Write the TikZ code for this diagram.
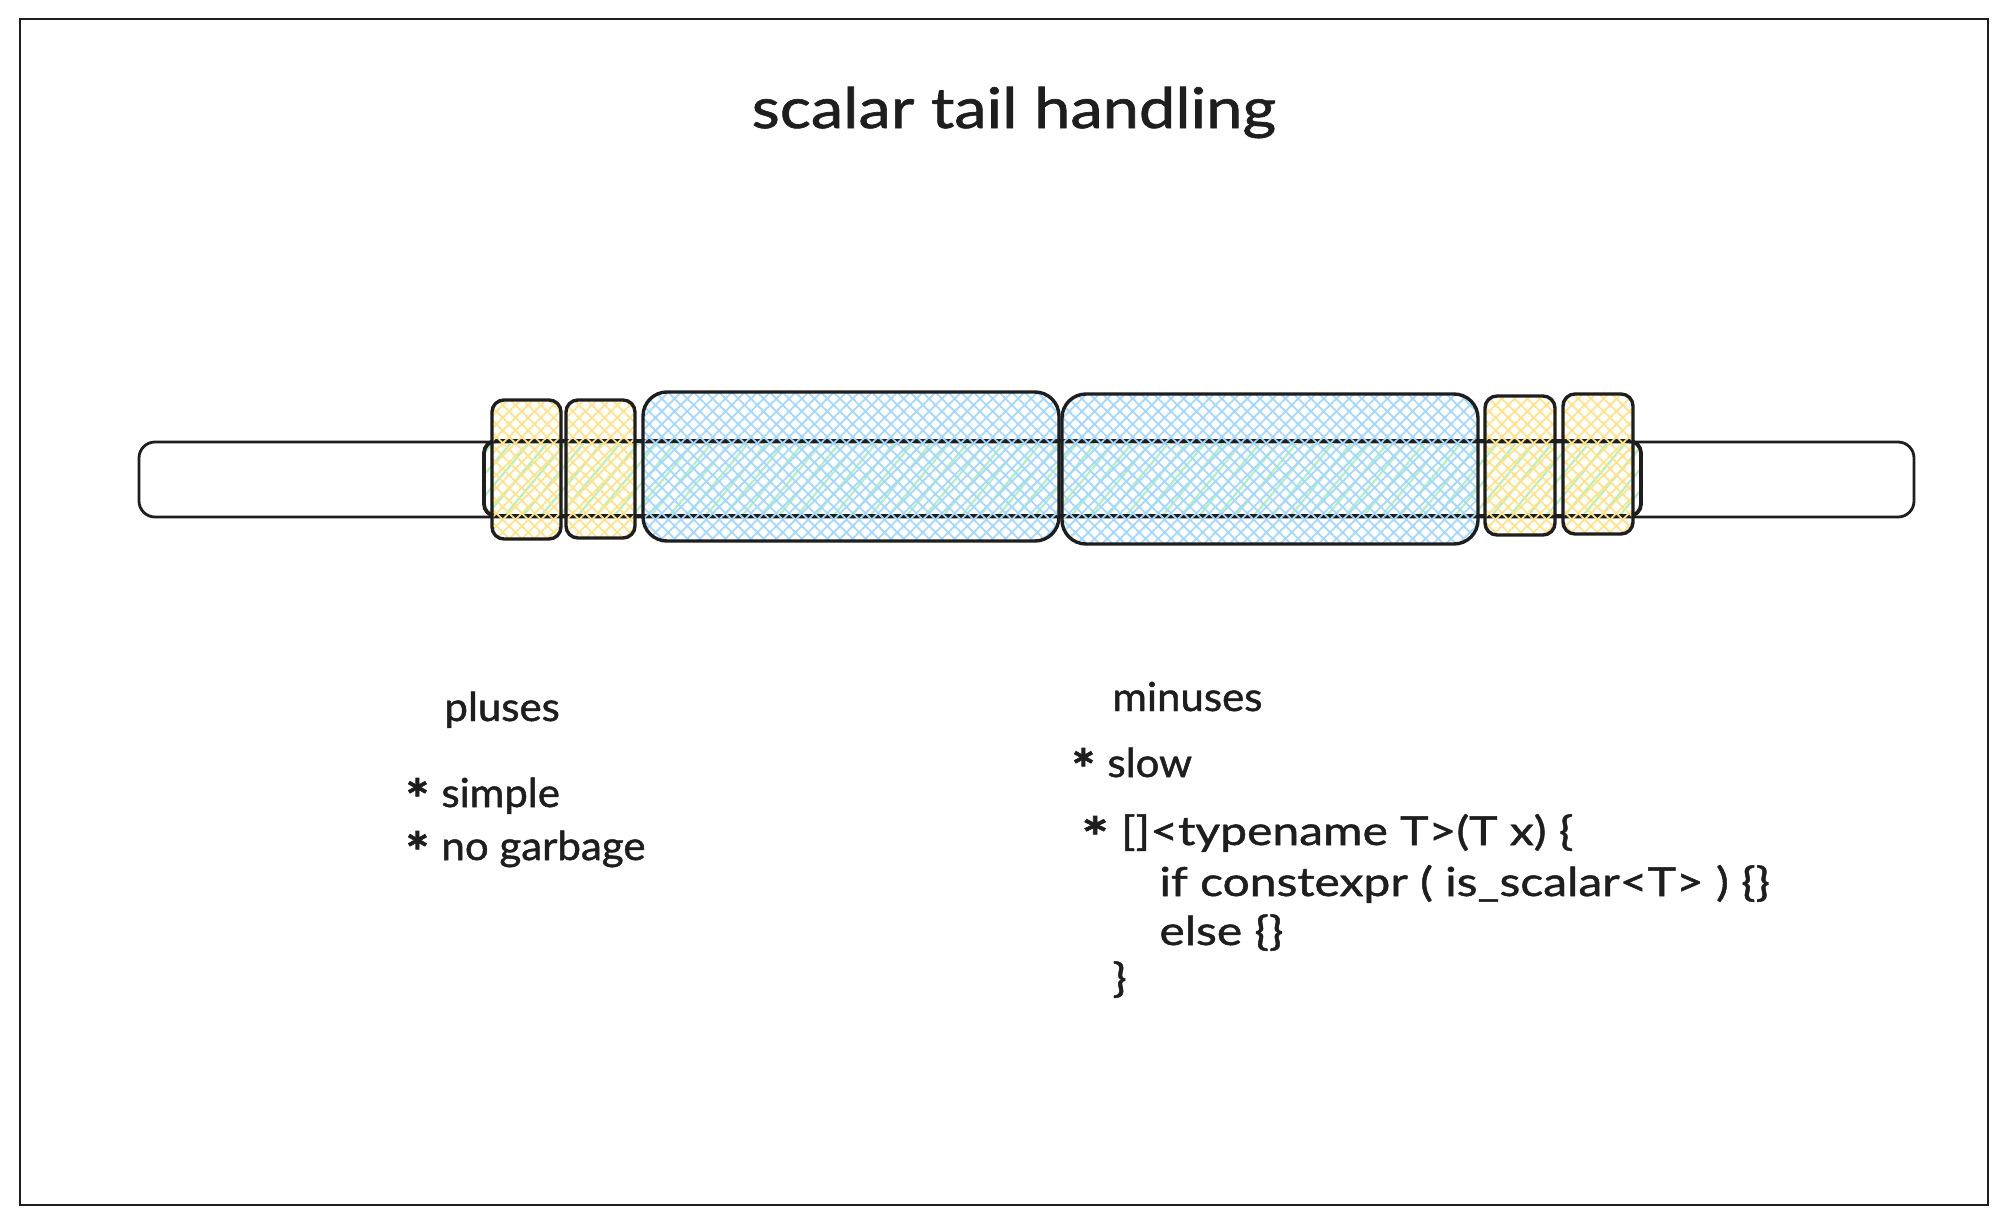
\documentclass[tikz,border=0pt]{standalone}
\usepackage{fontspec}
\setmainfont{Lato}[FakeStretch=1.05,FakeBold=1.2]
\newfontfamily\titlefam{Lato}[FakeStretch=1.16,FakeBold=1.2]
\newfontfamily\codefam{Lato}[FakeStretch=1.2,FakeBold=1.2]
\usetikzlibrary{patterns.meta}
\definecolor{ink}{HTML}{1E1E1E}
\definecolor{yel}{HTML}{FFE38A}
\definecolor{blu}{HTML}{A5D8FF}
\definecolor{grn}{HTML}{B2F2BB}
\newcommand{\bulletstar}{\smash{\raisebox{-0.3em}{\bfseries\fontsize{27}{27}\selectfont *}}\hspace{0.3em}}
\tikzset{
  frame/.style={draw=ink, line width=1pt},
  bar/.style={draw=ink, line width=1.4pt, rounded corners=8pt},
  greenband/.style={draw=ink, line width=1.9pt, rounded corners=6pt,
    pattern={Lines[angle=50,distance=7pt,line width=1.1pt]}, pattern color=grn},
  ybox/.style={draw=ink, line width=1.7pt, rounded corners=6pt,
    pattern={Hatch[angle=45,distance=4.5pt,line width=0.9pt]}, pattern color=yel},
  bbox/.style={draw=ink, line width=1.7pt, rounded corners=12pt,
    pattern={Hatch[angle=45,distance=4.5pt,line width=0.9pt]}, pattern color=blu},
  titletext/.style={text=ink, inner sep=0pt, font=\titlefam\fontsize{28}{34}\selectfont},
  bodytext/.style={text=ink, inner sep=0pt, anchor=base west, font=\fontsize{20}{25}\selectfont},
  codetext/.style={bodytext, font=\codefam\fontsize{20}{25}\selectfont},
}
\begin{document}
\begin{tikzpicture}[x=0.5pt,y=-0.5pt]
\useasboundingbox (0,0) rectangle (2008,1226);
\fill[white] (0,0) rectangle (2008,1226);
\draw[frame] (20,19) rectangle (1988,1205);

% long bar
\draw[bar] (139,442) rectangle (1914,517);
% green band behind boxes
\draw[greenband] (484,441) rectangle (1641,516);

% boxes
\draw[ybox] (492,400) rectangle (561,539);
\draw[ybox] (566,400) rectangle (635,538);
\draw[bbox] (643,392) rectangle (1059,541);
\draw[bbox] (1062,394) rectangle (1478,544);
\draw[ybox] (1485,396) rectangle (1555,535);
\draw[ybox] (1563,394) rectangle (1633,534);

% title
\node[titletext, anchor=base] (title) at (1014,128) {scalar tail handling};

% pluses
\node[bodytext] (pl) at (444,721) {pluses};
\node[bodytext] (pl1) at (405,807) {\bulletstar simple};
\node[bodytext] (pl2) at (405,860) {\bulletstar no garbage};

% minuses
\node[bodytext] (mi) at (1112,711) {minuses};
\node[bodytext] (mi1) at (1071,777) {\bulletstar slow};
\node[codetext] (mi2) at (1081,845) {\bulletstar []<typename T>(T x) \{};
\node[codetext] (mi3) at (1159,896) {if constexpr ( is\_scalar<T> ) \{\}};
\node[codetext] (mi4) at (1159,945) {else \{\}};
\node[codetext] (mi5) at (1112,992) {\}};
\end{tikzpicture}
\end{document}
